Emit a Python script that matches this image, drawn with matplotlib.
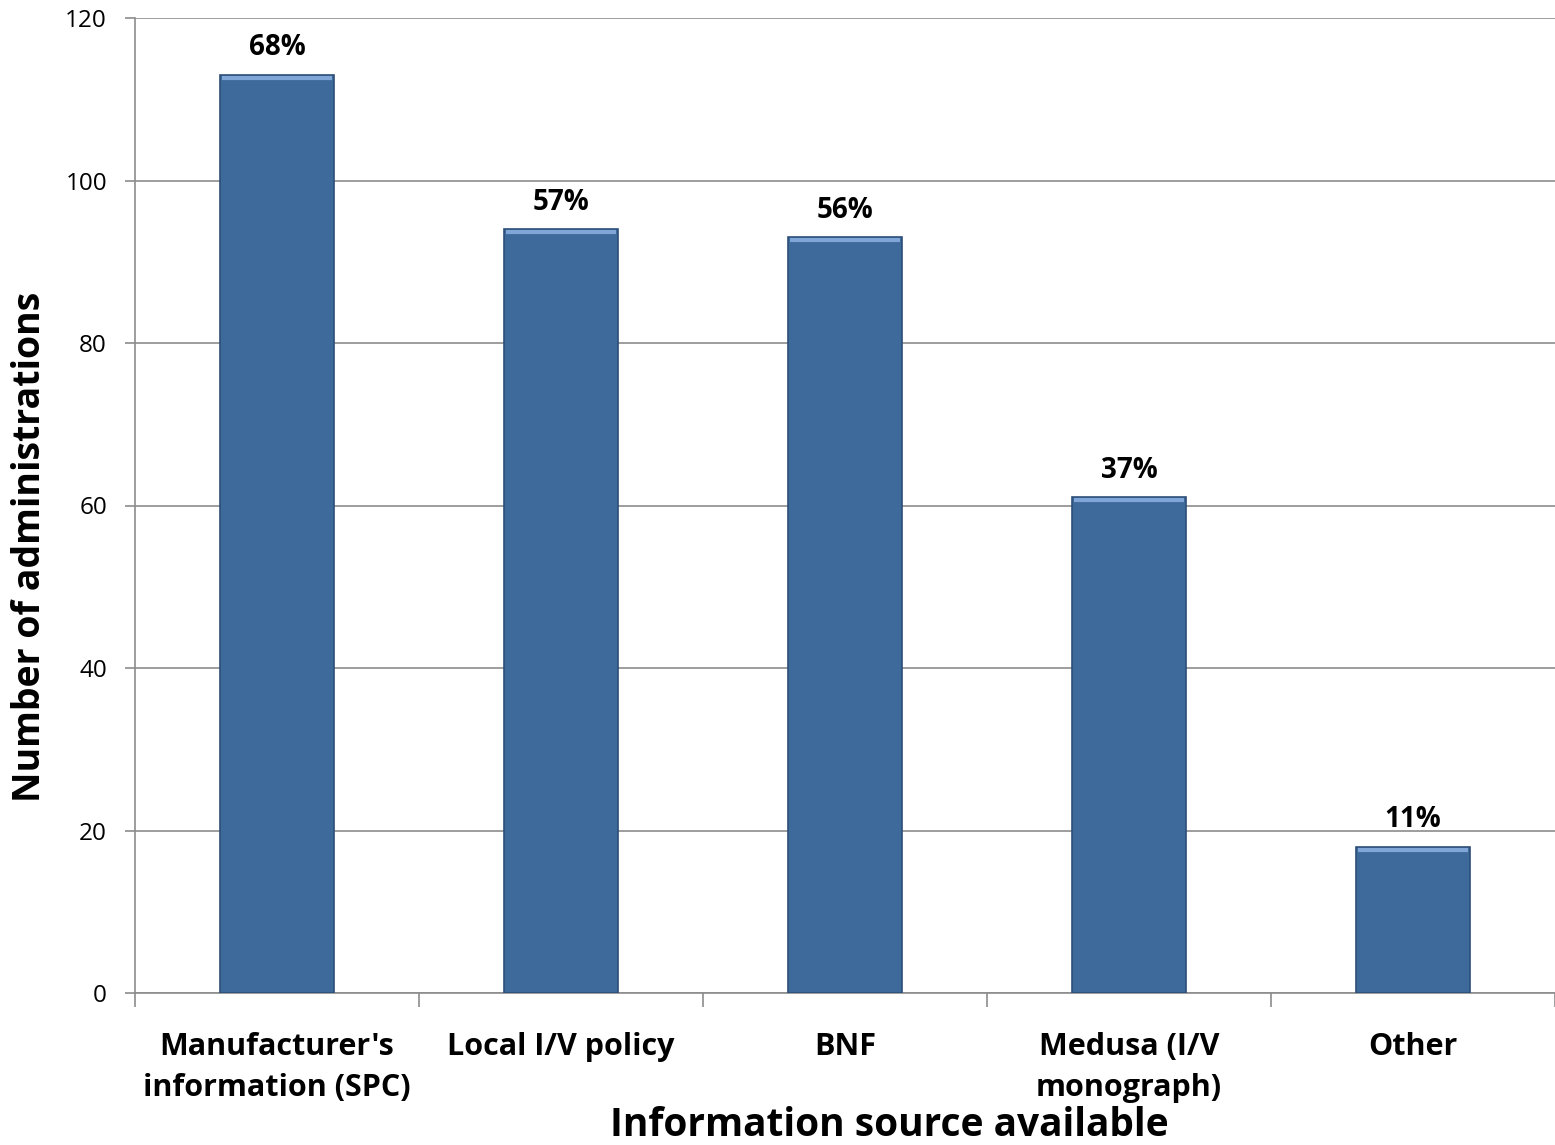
import matplotlib
matplotlib.use("Agg")
import matplotlib.pyplot as plt
import numpy as np

categories = ["Manufacturer's\ninformation (SPC)", "Local I/V policy", "BNF",
              "Medusa (I/V\nmonograph)", "Other"]
values = [113, 94, 93, 61, 18]
pct_labels = ["68%", "57%", "56%", "37%", "11%"]
y_ticks = [0, 20, 40, 60, 80, 100, 120]

plt.rcParams['font.family'] = ['Open Sans', 'DejaVu Sans']

fig = plt.figure(figsize=(15.55, 11.45), dpi=100)
ax = fig.add_axes([135/1555, 1-993/1145, 1-135/1555, (993-18)/1145])

x = np.arange(len(categories))
bars = ax.bar(x, values, width=0.4, color='#3E6A9B', edgecolor='#2C4F78',
              linewidth=1.2, zorder=3)

# light bevel highlight along the top of each bar
for b in bars:
    x0, w, h = b.get_x(), b.get_width(), b.get_height()
    ax.plot([x0 + w * 0.02, x0 + w * 0.98], [h - 0.35, h - 0.35],
            color='#7FA6D6', linewidth=3, solid_capstyle='butt', zorder=4)

for xi, v, lab in zip(x, values, pct_labels):
    ax.annotate(lab, (xi, v), xytext=(0, 19.5), textcoords='offset points',
                ha='center', va='center', fontsize=20, fontweight='bold')

ax.set_ylim(0, 120)
ax.set_xlim(-0.5, len(categories) - 0.5)
ax.set_yticks(y_ticks)
ax.tick_params(axis='y', labelsize=17.5, length=7.2, color='#8C8C8C', width=1.2, pad=13)
ax.yaxis.grid(True, color='#8C8C8C', linewidth=1.2, zorder=0)
ax.set_axisbelow(True)

ax.set_xticks(x)
ax.set_xticklabels(categories, fontsize=22, fontweight='bold', linespacing=1.5)
ax.tick_params(axis='x', length=0, pad=28)
ax.set_xticks(np.arange(-0.5, len(categories)), minor=True)
ax.tick_params(axis='x', which='minor', length=10, color='#8C8C8C', width=1.2)

for s in ['top', 'right']:
    ax.spines[s].set_visible(False)
for s in ['left', 'bottom']:
    ax.spines[s].set_color('#8C8C8C')
    ax.spines[s].set_linewidth(1.2)

ax.set_ylabel("Number of administrations", fontsize=27, fontweight='bold', va='center')
ax.yaxis.set_label_coords((30 - 135) / 1420, (993 - 547) / 975)
ax.set_xlabel("Information source available", fontsize=28, fontweight='bold', va='center')
ax.xaxis.set_label_coords((889 - 135) / 1420, -(1125 - 993) / 975)

fig.savefig("out.png", dpi=100)
